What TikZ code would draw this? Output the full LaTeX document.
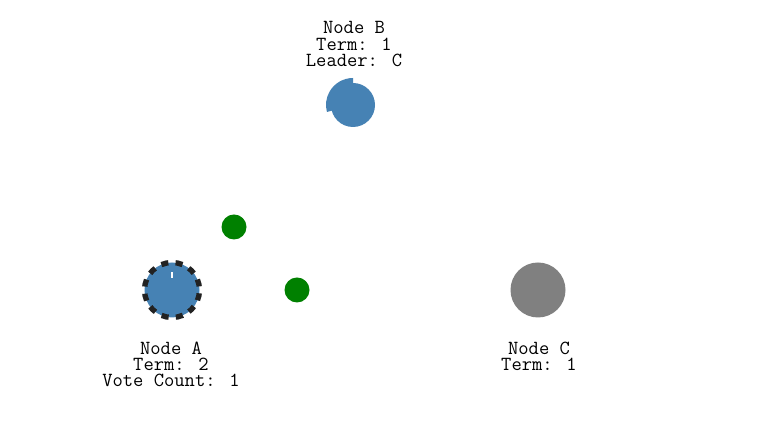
\documentclass[tikz,border=0pt]{standalone}
\usetikzlibrary{calc}
\definecolor{steel}{HTML}{4682B4}
\definecolor{grayc}{HTML}{808080}
\definecolor{greenc}{HTML}{008000}
\definecolor{dashc}{HTML}{222222}
\tikzset{
  lbl/.style={inner sep=0pt, anchor=base, align=center,
              font=\ttfamily\fontsize{15pt}{12.25pt}\selectfont, text=black},
  raftnode/.style={circle, inner sep=0pt, minimum size=41.25pt},
  msg/.style={circle, inner sep=0pt, minimum size=18.75pt, fill=greenc},
}
\begin{document}
\begin{tikzpicture}[x=0.75pt,y=0.75pt]
\useasboundingbox[fill=white] (0,0) rectangle (767,423);
% Node B (leader view) with partial arc
\node[raftnode, fill=steel, minimum size=33pt] (B) at (353,318) {};
\fill[steel] (B.center) -- ++(90:27) arc[start angle=90, end angle=195, radius=27] -- cycle;
% Node A (candidate) with dashed border
\node[raftnode, fill=steel, draw=dashc, line width=4pt,
      dash pattern=on 5.4pt off 5.4pt, dash phase=8.1pt] (A) at (172,133) {};
\draw[white, line width=1.5pt] ($(A)+(0,12)$) -- ($(A)+(0,18)$);
% Node C
\node[raftnode, fill=grayc] (C) at (538,133) {};
% messages
\node[msg] (m1) at (234,196) {};
\node[msg] (m2) at (297,133) {};
% labels (base = baseline of last line)
\node[lbl] (Blabel) at (354,356.5) {Node B\\Term: 1\\Leader: C};
\node[lbl] (Alabel) at (171,36.1) {Node A\\Term: 2\\Vote Count: 1};
\node[lbl] (Clabel) at (539,52.4) {Node C\\Term: 1};
\end{tikzpicture}
\end{document}
